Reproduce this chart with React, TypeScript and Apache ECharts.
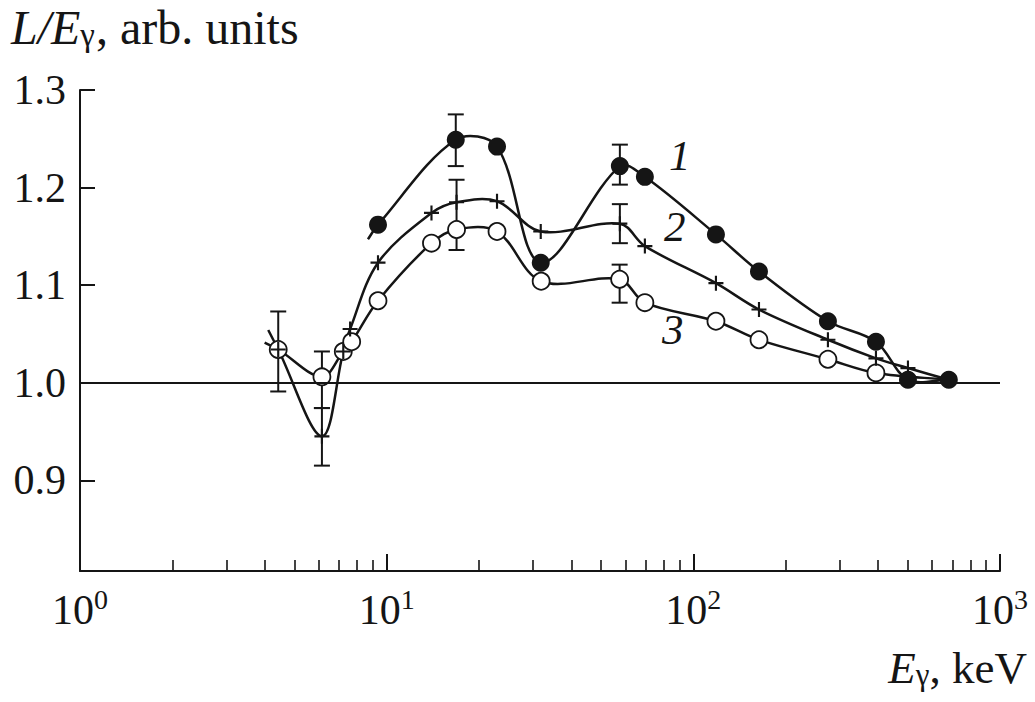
import React, { useEffect, useRef } from "react";
import * as echarts from "echarts";

// ---- data ----
// curve 1: filled circles
const s1Points: number[][] = [
  [9.37, 1.162], [16.8, 1.249], [22.9, 1.242], [31.8, 1.123], [57.6, 1.222],
  [69.5, 1.211], [118.5, 1.152], [163.7, 1.114], [274.7, 1.063], [394, 1.042],
  [501, 1.003], [681, 1.003],
];
const s1LineStart: number[] = [8.69, 1.147];
const s1Errors: number[][] = [[16.8, 1.222, 1.275], [57.6, 1.203, 1.244]];

// curve 2: plus markers
const s2Points: number[][] = [
  [4.43, 1.034], [6.15, 0.945], [7.22, 1.032], [7.6, 1.055], [9.37, 1.123],
  [14.0, 1.174], [16.9, 1.185], [22.9, 1.186], [31.8, 1.155], [57.6, 1.163],
  [69.5, 1.14], [118.5, 1.102], [163.7, 1.075], [274.7, 1.044], [394, 1.025],
  [501, 1.015],
];
const s2LineStart: number[] = [4.11, 1.054];
const s2LineEnd: number[] = [681, 1.003];
const s2Errors: number[][] = [[6.15, 0.915, 0.974], [16.9, 1.136, 1.208], [57.6, 1.143, 1.183]];

// curve 3: open circles
const s3Points: number[][] = [
  [4.43, 1.034], [6.15, 1.006], [7.22, 1.032], [7.69, 1.042], [9.37, 1.084],
  [14.0, 1.143], [16.9, 1.157], [22.9, 1.155], [31.9, 1.104], [57.5, 1.106],
  [69.5, 1.082], [118.5, 1.063], [163.7, 1.044], [274.7, 1.024], [394, 1.01],
];
const s3LineStart: number[] = [4.0, 1.041];
const s3LineEnd: number[] = [681, 1.003];
const s3Errors: number[][] = [[4.43, 0.991, 1.073], [6.15, 0.974, 1.032], [57.5, 1.082, 1.121]];

const referenceLevel = 1.0;
const yTicks: number[] = [0.9, 1.0, 1.1, 1.2, 1.3];
const xMajorTicks: number[] = [1, 10, 100, 1000];
const xMinorTicks: number[] = [
  2, 3, 4, 5, 6, 7, 8, 9,
  20, 30, 40, 50, 60, 70, 80, 90,
  200, 300, 400, 500, 600, 700, 800, 900,
];
const curveLabels: string[] = ["1", "2", "3"];

const FONT = "'Liberation Serif', 'Times New Roman', 'DejaVu Serif', serif";
const INK = "#151515";
const PLUS_PATH = "path://M6,0H8V6H14V8H8V14H6V8H0V6H6Z";

function errorBarSeries(data: number[][], z: number) {
  return {
    type: "custom",
    xAxisIndex: 0,
    yAxisIndex: 0,
    z,
    silent: true,
    data,
    encode: { x: 0, y: [1, 2] },
    renderItem: (_params: any, api: any) => {
      const x = api.value(0);
      const lo = api.coord([x, api.value(1)]);
      const hi = api.coord([x, api.value(2)]);
      const cap = 8;
      const style = { stroke: INK, lineWidth: 2 };
      return {
        type: "group",
        children: [
          { type: "line", shape: { x1: lo[0], y1: lo[1], x2: hi[0], y2: hi[1] }, style },
          { type: "line", shape: { x1: lo[0] - cap, y1: lo[1], x2: lo[0] + cap, y2: lo[1] }, style },
          { type: "line", shape: { x1: hi[0] - cap, y1: hi[1], x2: hi[0] + cap, y2: hi[1] }, style },
        ],
      };
    },
  };
}

// Smooth curve (Catmull-Rom style) through the knots, drawn in pixel space via the axes.
function curveSeries(knots: number[][]) {
  return {
    type: "custom",
    xAxisIndex: 0,
    yAxisIndex: 0,
    z: 2,
    silent: true,
    clip: false,
    data: knots,
    encode: { x: 0, y: 1 },
    renderItem: (params: any, api: any) => {
      if (params.dataIndex !== 0) return null;
      const px: number[][] = knots.map((p) => api.coord(p));
      const dist = (a: number[], b: number[]) => Math.hypot(b[0] - a[0], b[1] - a[1]);
      const k = 0.34;
      let d = "M" + px[0][0] + "," + px[0][1];
      for (let i = 0; i < px.length - 1; i++) {
        const p0 = px[i - 1] || px[i];
        const p1 = px[i];
        const p2 = px[i + 1];
        const p3 = px[i + 2] || px[i + 1];
        const d01 = dist(p0, p1);
        const d12 = dist(p1, p2);
        const d23 = dist(p2, p3);
        const r1 = d01 + d12 > 0 ? d12 / (d01 + d12) : 0;
        const r2 = d12 + d23 > 0 ? d12 / (d12 + d23) : 0;
        const c1x = p1[0] + (p2[0] - p0[0]) * r1 * k;
        const c1y = p1[1] + (p2[1] - p0[1]) * r1 * k;
        const c2x = p2[0] - (p3[0] - p1[0]) * r2 * k;
        const c2y = p2[1] - (p3[1] - p1[1]) * r2 * k;
        d += " C" + c1x + "," + c1y + " " + c2x + "," + c2y + " " + p2[0] + "," + p2[1];
      }
      return {
        type: "path",
        shape: { pathData: d },
        style: { stroke: INK, lineWidth: 2.5, fill: "none" },
      };
    },
  };
}

export default function App() {
  const ref = useRef<HTMLDivElement>(null);

  useEffect(() => {
    if (!ref.current) return;
    const chart = echarts.init(ref.current, undefined, { renderer: "svg" });

    const supLabel = (v: number) => {
      const e = Math.round(Math.log10(v));
      return "{b|10}{s|" + e + "}";
    };

    const option: any = {
      animation: false,
      backgroundColor: "#ffffff",
      grid: { left: 80, right: 35, top: 90, bottom: 131, containLabel: false },
      xAxis: [
        {
          type: "log",
          logBase: 10,
          min: 1,
          max: 1000,
          position: "bottom",
          axisLine: { show: true, lineStyle: { color: INK, width: 2 } },
          axisTick: {
            show: true,
            inside: true,
            length: 17,
            customValues: xMajorTicks,
            lineStyle: { color: INK, width: 2 },
          },
          axisLabel: {
            show: true,
            customValues: xMajorTicks,
            margin: 14,
            formatter: supLabel,
            rich: {
              b: { fontSize: 42, fontFamily: FONT, color: INK, lineHeight: 46, verticalAlign: "bottom" },
              s: { fontSize: 28, fontFamily: FONT, color: INK, lineHeight: 28, verticalAlign: "top" },
            },
          },
          splitLine: { show: false },
          minorTick: { show: false },
        },
        {
          type: "log",
          logBase: 10,
          min: 1,
          max: 1000,
          position: "bottom",
          axisLine: { show: false },
          axisTick: {
            show: true,
            inside: true,
            length: 11,
            customValues: xMinorTicks,
            lineStyle: { color: INK, width: 1.6 },
          },
          axisLabel: { show: false },
          splitLine: { show: false },
        },
      ],
      yAxis: {
        type: "value",
        min: 0.807,
        max: 1.3,
        axisLine: { show: true, lineStyle: { color: INK, width: 2 } },
        axisTick: {
          show: true,
          inside: true,
          length: 15,
          customValues: yTicks,
          lineStyle: { color: INK, width: 2 },
        },
        axisLabel: {
          show: true,
          customValues: yTicks,
          margin: 14,
          fontSize: 42,
          fontFamily: FONT,
          color: INK,
          formatter: (v: number) => v.toFixed(1),
        },
        splitLine: { show: false },
      },
      series: [
        curveSeries([s1LineStart, ...s1Points]),
        curveSeries([s2LineStart, ...s2Points, s2LineEnd]),
        curveSeries([s3LineStart, ...s3Points, s3LineEnd]),
        errorBarSeries(s1Errors, 3),
        errorBarSeries(s2Errors, 3),
        errorBarSeries(s3Errors, 3),
        {
          type: "scatter",
          xAxisIndex: 0,
          yAxisIndex: 0,
          data: s3Points,
          symbol: "circle",
          symbolSize: 17,
          z: 4,
          silent: true,
          itemStyle: { color: "#ffffff", borderColor: INK, borderWidth: 1.8, opacity: 1 },
        },
        {
          type: "scatter",
          xAxisIndex: 0,
          yAxisIndex: 0,
          data: s2Points,
          symbol: PLUS_PATH,
          symbolSize: 15,
          z: 5,
          silent: true,
          itemStyle: { color: INK, opacity: 1 },
        },
        {
          type: "scatter",
          xAxisIndex: 0,
          yAxisIndex: 0,
          data: s1Points,
          symbol: "circle",
          symbolSize: 18,
          z: 5,
          silent: true,
          itemStyle: { color: INK, opacity: 1 },
          markLine: {
            silent: true,
            symbol: ["none", "none"],
            label: { show: false },
            lineStyle: { color: INK, width: 2, type: "solid" },
            data: [{ yAxis: referenceLevel }],
          },
        },
      ],
      graphic: [
        {
          type: "text",
          left: 11,
          top: 3,
          silent: true,
          style: {
            text: "{i|L/E}{g|γ}{n|, arb. units}",
            rich: {
              i: { fontSize: 48, fontFamily: FONT, fontStyle: "italic", fill: INK, lineHeight: 48, verticalAlign: "top" },
              g: { fontSize: 33, fontFamily: FONT, fill: INK, lineHeight: 26, verticalAlign: "bottom", padding: [0, 1, 0, 0] },
              n: { fontSize: 48, fontFamily: FONT, fill: INK, lineHeight: 48, verticalAlign: "top" },
            },
          },
        },
        {
          type: "text",
          right: 8,
          top: 645,
          silent: true,
          style: {
            text: "{i|E}{g|γ}{n|, keV}",
            rich: {
              i: { fontSize: 45, fontFamily: FONT, fontStyle: "italic", fill: INK, lineHeight: 45, verticalAlign: "top" },
              g: { fontSize: 31, fontFamily: FONT, fill: INK, lineHeight: 25, verticalAlign: "bottom" },
              n: { fontSize: 45, fontFamily: FONT, fill: INK, lineHeight: 45, verticalAlign: "top" },
            },
          },
        },
        {
          type: "text",
          left: 669,
          top: 134,
          silent: true,
          style: { text: curveLabels[0], fontSize: 43, fontFamily: FONT, fontStyle: "italic", fill: INK },
        },
        {
          type: "text",
          left: 664,
          top: 205,
          silent: true,
          style: { text: curveLabels[1], fontSize: 43, fontFamily: FONT, fontStyle: "italic", fill: INK },
        },
        {
          type: "text",
          left: 662,
          top: 308,
          silent: true,
          style: { text: curveLabels[2], fontSize: 43, fontFamily: FONT, fontStyle: "italic", fill: INK },
        },
      ],
    };

    chart.setOption(option);
    return () => chart.dispose();
  }, []);

  return (
    <div
      ref={ref}
      style={{ position: "fixed", left: 0, top: 0, width: 1035, height: 702, background: "#fff" }}
    />
  );
}
